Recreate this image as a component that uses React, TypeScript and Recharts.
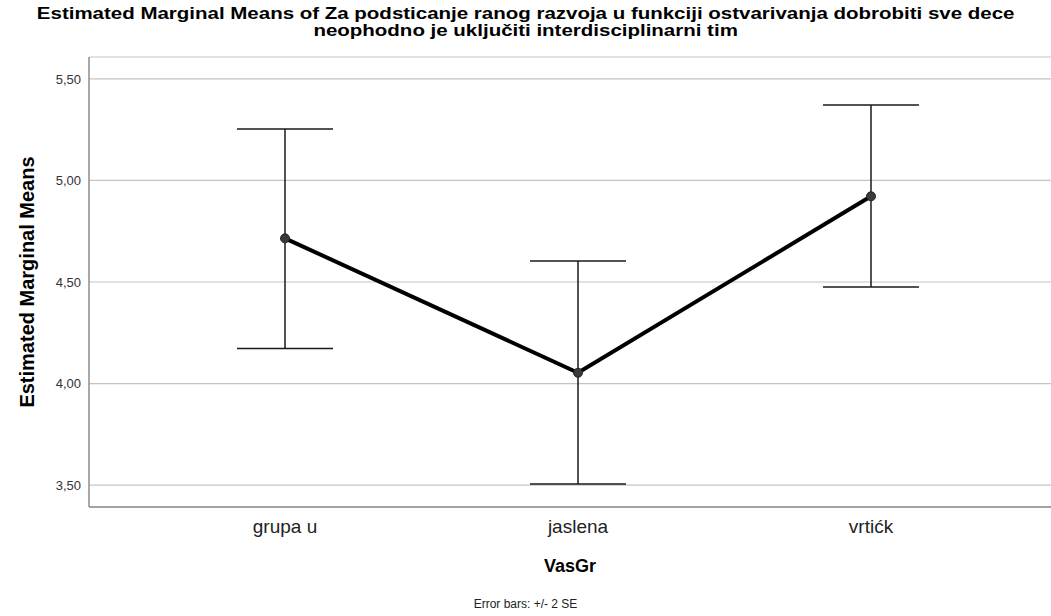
import React from 'react';
import { LineChart, Line, XAxis, YAxis, CartesianGrid, ErrorBar, Label } from 'recharts';

const categories = ['grupa u', 'jaslena', 'vrtićk'];
const means = [4.715, 4.053, 4.922];
const errLow = [0.542, 0.548, 0.447];
const errHigh = [0.539, 0.55, 0.45];
const yTicks = [3.5, 4.0, 4.5, 5.0, 5.5];

const data = categories.map((name, i) => ({
  name,
  mean: means[i],
  err: [errLow[i], errHigh[i]],
}));

const font = 'Arial, "Liberation Sans", sans-serif';

const App: React.FC = () => {
  return (
    <div style={{ position: 'absolute', left: 0, top: 0, width: 1051, height: 616, background: '#fff', fontFamily: font }}>
      <div
        style={{
          position: 'absolute',
          left: 0,
          top: 5,
          width: 1051,
          textAlign: 'center',
          fontWeight: 'bold',
          fontSize: 16,
          lineHeight: '17px',
          color: '#000',
          transform: 'scaleX(1.28)',
          transformOrigin: '525px 0',
          whiteSpace: 'nowrap',
        }}
      >
        Estimated Marginal Means of Za podsticanje ranog razvoja u funkciji ostvarivanja dobrobiti sve dece
        <br />
        neophodno je uključiti interdisciplinarni tim
      </div>
      <LineChart
        width={1051}
        height={616}
        data={data}
        margin={{ top: 57, right: 0, bottom: 79, left: 0 }}
      >
        <CartesianGrid vertical={false} stroke="#c4c4c4" strokeWidth={1.2} />
        <XAxis
          dataKey="name"
          padding={{ left: 196, right: 180 }}
          axisLine={{ stroke: '#8c8c8c', strokeWidth: 1.5 }}
          tickLine={false}
          tickSize={0}
          tick={{ fill: '#222', fontSize: 19, fontFamily: font }}
          tickMargin={13}
        >
          <Label value="VasGr" position="insideBottom" offset={-35} style={{ fontWeight: 'bold', fontSize: 18, fill: '#000', fontFamily: font }} />
        </XAxis>
        <YAxis
          domain={[3.392, 5.608]}
          ticks={yTicks}
          width={89}
          axisLine={{ stroke: '#8c8c8c', strokeWidth: 1.5 }}
          tickLine={false}
          tickSize={0}
          tickFormatter={(v: number) => v.toFixed(2).replace('.', ',')}
          tick={{ fill: '#333', fontSize: 13, fontFamily: font }}
          tickMargin={8}
        >
          <Label
            value="Estimated Marginal Means"
            angle={-90}
            position="insideLeft"
            offset={27}
            style={{ textAnchor: 'middle', fontWeight: 'bold', fontSize: 20, fill: '#000', fontFamily: font }}
          />
        </YAxis>
        <Line
          type="linear"
          dataKey="mean"
          stroke="#000"
          strokeWidth={4}
          dot={{ r: 4.5, fill: '#3a3a3a', stroke: '#222', strokeWidth: 1 }}
          isAnimationActive={false}
        >
          <ErrorBar dataKey="err" direction="y" width={48} stroke="#1a1a1a" strokeWidth={1.5} />
        </Line>
      </LineChart>
      <div
        style={{
          position: 'absolute',
          left: 0,
          top: 597,
          width: 1051,
          textAlign: 'center',
          fontSize: 12,
          color: '#222',
        }}
      >
        Error bars: +/- 2 SE
      </div>
    </div>
  );
};

export default App;
